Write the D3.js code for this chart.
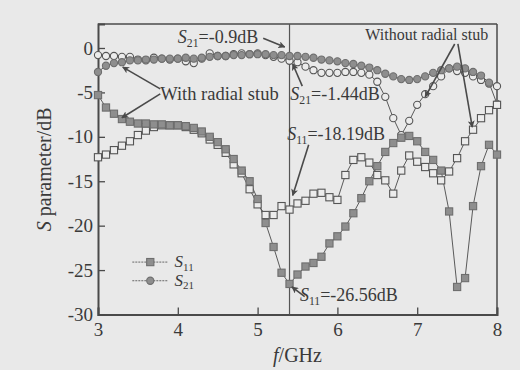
<!DOCTYPE html>
<html>
<head>
<meta charset="utf-8">
<script src="https://cdn.jsdelivr.net/npm/d3@7"></script>
<style>
  body { margin: 0; background: #e9e9e9; }
  svg { display: block; font-family: "Liberation Serif", "DejaVu Serif", serif; }
</style>
</head>
<body>
<svg id="chart" width="520" height="370"></svg>
<script>
// frequency points (GHz)
const freq = [3.0, 3.1, 3.2, 3.3, 3.4, 3.5, 3.6, 3.7, 3.8, 3.9,
  4.0, 4.1, 4.2, 4.3, 4.4, 4.5, 4.6, 4.7, 4.8, 4.9,
  5.0, 5.1, 5.2, 5.3, 5.4, 5.5, 5.6, 5.7, 5.8, 5.9,
  6.0, 6.1, 6.2, 6.3, 6.4, 6.5, 6.6, 6.7, 6.8, 6.9,
  7.0, 7.1, 7.2, 7.3, 7.4, 7.5, 7.6, 7.7, 7.8, 7.9, 8.0];

// with radial stub (filled markers)
const s11With = [-5.3, -6.7, -7.4, -8.0, -8.3, -8.5, -8.5, -8.6, -8.6, -8.7,
  -8.7, -8.8, -9.0, -9.4, -10.0, -10.6, -11.4, -12.5, -13.8, -15.0,
  -17.0, -19.7, -22.4, -25.3, -26.56, -25.5, -24.6, -24.2, -23.5, -22.0,
  -21.2, -20.1, -18.6, -16.9, -15.0, -13.3, -11.7, -10.7, -10.1, -9.9,
  -10.5, -11.7, -12.6, -13.8, -18.4, -26.9, -25.9, -17.8, -13.3, -10.9, -12.0];
const s21With = [-2.7, -2.0, -1.7, -1.6, -1.4, -1.4, -1.3, -1.3, -1.2, -1.2,
  -1.2, -1.1, -1.2, -1.1, -1.0, -0.9, -0.9, -0.8, -0.8, -0.7,
  -0.7, -0.7, -0.8, -0.8, -0.9, -0.9, -1.0, -1.1, -1.3, -1.4,
  -1.5, -1.7, -1.8, -2.0, -2.2, -2.5, -2.9, -3.2, -3.5, -3.6,
  -3.5, -3.2, -2.8, -2.5, -2.3, -2.1, -2.3, -2.7, -3.1, -3.9, -6.3];

// without radial stub (open markers)
const s11Without = [-12.3, -12.0, -11.5, -11.0, -10.5, -9.8, -9.3, -8.9, -8.7, -8.7,
  -8.7, -8.9, -9.2, -9.6, -10.3, -10.9, -11.8, -13.1, -14.1, -15.9,
  -17.6, -18.8, -18.8, -17.8, -18.19, -17.5, -17.2, -16.4, -16.3, -16.8,
  -17.1, -14.3, -12.6, -12.3, -12.9, -14.3, -14.9, -16.4, -13.8, -12.1,
  -12.8, -13.4, -14.1, -14.9, -13.9, -12.4, -10.5, -9.2, -7.9, -7.0, -6.4];
const s21Without = [-0.8, -0.9, -0.9, -1.0, -1.0, -1.3, -1.4, -1.1, -1.2, -1.3,
  -1.2, -1.5, -1.7, -1.2, -0.6, -0.9, -0.9, -0.7, -0.6, -0.7,
  -0.6, -0.8, -1.0, -1.2, -1.44, -1.6, -2.1, -2.5, -2.8, -2.8,
  -2.8, -2.7, -2.7, -2.8, -3.0, -3.8, -5.5, -7.9, -9.8, -8.2,
  -6.4, -5.2, -4.3, -3.2, -2.3, -2.6, -2.8, -3.2, -3.6, -4.0, -4.3];

const xTicks = [3, 4, 5, 6, 7, 8];
const yTicks = [0, -5, -10, -15, -20, -25, -30];
const markerFreq = 5.4;

const svg = d3.select("#chart");
const width = 520, height = 370;
svg.append("rect").attr("width", width).attr("height", height).attr("fill", "#e9e9e9");

const x = d3.scaleLinear().domain([3, 8]).range([98, 497]);
const y = d3.scaleLinear().domain([-30, 2.7]).range([314.5, 24]);

const ink = "#4a4a4a";

// arrow head
svg.append("defs").append("marker")
  .attr("id", "arrow")
  .attr("viewBox", "0 0 10 10")
  .attr("refX", 9).attr("refY", 5)
  .attr("markerWidth", 7).attr("markerHeight", 7)
  .attr("markerUnits", "userSpaceOnUse")
  .attr("orient", "auto")
  .append("path")
  .attr("d", "M0,0 L10,5 L0,10 L2.5,5 Z")
  .attr("fill", ink);

// frame
svg.append("line")
  .attr("x1", x(3)).attr("x2", x(8)).attr("y1", y.range()[1]).attr("y2", y.range()[1])
  .attr("stroke", ink).attr("stroke-width", 1.5);
svg.append("line")
  .attr("x1", x(8)).attr("x2", x(8)).attr("y1", y.range()[1]).attr("y2", y.range()[0])
  .attr("stroke", ink).attr("stroke-width", 1.5);

// x axis (ticks inside)
const gx = svg.append("g").attr("transform", `translate(0,${y(-30)})`);
gx.call(d3.axisBottom(x).tickValues(d3.range(3, 8.01, 0.2)).tickSize(-4).tickFormat(""));
gx.call(d3.axisBottom(x).tickValues(xTicks).tickSize(-7).tickPadding(6).tickFormat(d3.format("d")));
gx.selectAll("path.domain").attr("stroke", ink).attr("stroke-width", 2);
gx.selectAll(".tick line").attr("stroke", ink).attr("stroke-width", 1.3);
gx.selectAll("text").attr("fill", "#3a3a3a").attr("font-size", 19)
  .attr("font-family", "Liberation Serif").attr("dy", "0.95em").attr("y", 3);

// y axis (ticks inside)
const gy = svg.append("g").attr("transform", `translate(${x(3)},0)`);
gy.call(d3.axisLeft(y).tickValues(d3.range(-30, 0.01, 2.5)).tickSize(-4).tickFormat(""));
gy.call(d3.axisLeft(y).tickValues(yTicks).tickSize(-7).tickPadding(6).tickFormat(d => d));
gy.selectAll("path.domain").attr("stroke", ink).attr("stroke-width", 2);
gy.selectAll(".tick line").attr("stroke", ink).attr("stroke-width", 1.3);
gy.selectAll("text").attr("fill", "#3a3a3a").attr("font-size", 19)
  .attr("font-family", "Liberation Serif").attr("x", -5);

// marker frequency line
svg.append("line")
  .attr("x1", x(markerFreq)).attr("x2", x(markerFreq))
  .attr("y1", y.range()[1]).attr("y2", y.range()[0])
  .attr("stroke", "#555").attr("stroke-width", 1.2);

// series
const series = [
  { values: s21Without, shape: "circle", filled: false },
  { values: s21With, shape: "circle", filled: true },
  { values: s11Without, shape: "square", filled: false },
  { values: s11With, shape: "square", filled: true },
];

const line = d3.line().x((d, i) => x(freq[i])).y(d => y(d));

function drawMarker(sel, shape, filled) {
  if (shape === "circle") {
    sel.append("circle").attr("r", 3.6);
  } else {
    sel.append("rect").attr("x", -3.6).attr("y", -3.6).attr("width", 7.2).attr("height", 7.2);
  }
  sel.selectAll("circle,rect")
    .attr("fill", filled ? "#8e8e8e" : "#ececec")
    .attr("stroke", filled ? "#6e6e6e" : "#555")
    .attr("stroke-width", 1.1);
}

series.forEach(s => {
  svg.append("path")
    .datum(s.values)
    .attr("d", line)
    .attr("fill", "none")
    .attr("stroke", "#5a5a5a")
    .attr("stroke-width", 1);
});
series.forEach(s => {
  svg.append("g")
    .selectAll("g")
    .data(s.values)
    .enter()
    .append("g")
    .attr("transform", (d, i) => `translate(${x(freq[i])},${y(d)})`)
    .each(function () { drawMarker(d3.select(this), s.shape, s.filled); });
});

// text helper: S with subscript
function sLabel(px, py, sub, rest, size) {
  const t = svg.append("text")
    .attr("x", px).attr("y", py)
    .attr("font-size", size)
    .attr("fill", "#3a3a3a");
  t.append("tspan").attr("font-style", "italic").text("S");
  t.append("tspan").attr("font-size", size * 0.65).attr("dy", size * 0.22).text(sub);
  if (rest) t.append("tspan").attr("dy", -size * 0.22).text(rest);
  return t;
}
function arrow(f1, d1, f2, d2) {
  svg.append("line")
    .attr("x1", x(f1)).attr("y1", y(d1))
    .attr("x2", x(f2)).attr("y2", y(d2))
    .attr("stroke", ink).attr("stroke-width", 1.6)
    .attr("marker-end", "url(#arrow)");
}

// annotations
sLabel(x(4.0), y(0.56), "21", "=-0.9dB", 18);
arrow(5.07, 1.1, 5.34, 0.1);

sLabel(x(5.41), y(-5.84), "21", "=-1.44dB", 18);
arrow(5.56, -4.3, 5.44, -1.8);

sLabel(x(5.37), y(-10.34), "11", "=-18.19dB", 18);
arrow(5.64, -10.9, 5.44, -16.6);

sLabel(x(5.53), y(-28.5), "11", "=-26.56dB", 18);
arrow(5.59, -28.0, 5.43, -26.9);

svg.append("text")
  .attr("x", x(3.78)).attr("y", y(-5.84))
  .attr("font-size", 18.5).attr("fill", "#3a3a3a")
  .text("With radial stub");
arrow(3.78, -4.6, 3.31, -2.15);
arrow(3.78, -5.17, 3.3, -7.85);

svg.append("text")
  .attr("x", x(6.35)).attr("y", y(0.9))
  .attr("font-size", 16).attr("fill", "#3a3a3a")
  .text("Without radial stub");
arrow(7.47, 0.45, 7.1, -5.5);
arrow(7.51, 0.45, 7.69, -8.9);

// legend
const legend = [
  { shape: "square", name: "11", dB: -24.1 },
  { shape: "circle", name: "21", dB: -26.2 },
];
legend.forEach(l => {
  svg.append("line")
    .attr("x1", x(3.43)).attr("x2", x(3.88))
    .attr("y1", y(l.dB)).attr("y2", y(l.dB))
    .attr("stroke", "#666").attr("stroke-width", 1)
    .attr("stroke-dasharray", "2,1");
  const g = svg.append("g").attr("transform", `translate(${x(3.655)},${y(l.dB)})`);
  drawMarker(g, l.shape, true);
  sLabel(x(3.96), y(l.dB) + 5, l.name, "", 17);
});

// axis titles
const yt = svg.append("text")
  .attr("transform", `translate(51,${(y.range()[0] + y.range()[1]) / 2}) rotate(-90)`)
  .attr("text-anchor", "middle")
  .attr("font-size", 20).attr("fill", "#3a3a3a");
yt.append("tspan").attr("font-style", "italic").text("S");
yt.append("tspan").text(" parameter/dB");

const xt = svg.append("text")
  .attr("x", (x.range()[0] + x.range()[1]) / 2).attr("y", 362)
  .attr("text-anchor", "middle")
  .attr("font-size", 20).attr("fill", "#3a3a3a");
xt.append("tspan").attr("font-style", "italic").text("f");
xt.append("tspan").text("/GHz");
</script>
</body>
</html>
